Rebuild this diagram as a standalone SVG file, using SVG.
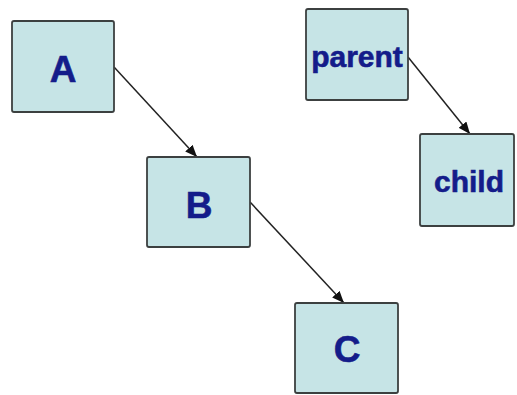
<svg xmlns="http://www.w3.org/2000/svg" width="517" height="395" viewBox="0 0 517 395">
<style>
.box{fill:#c6e4e6;stroke:#3c4040;stroke-width:1.8}
.lbl{font-family:"Liberation Sans",Arial,sans-serif;font-weight:bold;fill:#141c8a;stroke:#141c8a;stroke-width:0.6;text-anchor:middle}
.big{font-size:37px}
.word{font-size:30px}
.conn{stroke:#222;stroke-width:1.5;fill:none;marker-end:url(#ah)}
</style>
<defs>
<marker id="ah" markerWidth="12" markerHeight="10" refX="12" refY="5" orient="auto" markerUnits="userSpaceOnUse">
<path d="M0,0 L12,5 L0,10 z" fill="#111"/>
</marker>
</defs>
<rect width="517" height="395" fill="#fff"/>
<g id="connectors">
<line class="conn" x1="114" y1="67" x2="197" y2="157"/>
<line class="conn" x1="250" y1="202" x2="344" y2="303"/>
<line class="conn" x1="408" y1="57" x2="470" y2="134"/>
</g>
<g id="A"><rect class="box" x="12" y="21" width="102" height="91" rx="2"/><text class="lbl big" x="63" y="82">A</text></g>
<g id="B"><rect class="box" x="147" y="157" width="103" height="90" rx="2"/><text class="lbl big" x="199" y="218">B</text></g>
<g id="C"><rect class="box" x="295" y="303" width="103" height="90" rx="2"/><text class="lbl big" x="347" y="362">C</text></g>
<g id="parent"><rect class="box" x="306" y="9" width="102" height="91" rx="2"/><text class="lbl word" x="357" y="67">parent</text></g>
<g id="child"><rect class="box" x="420" y="134" width="94" height="92" rx="2"/><text class="lbl word" x="469" y="192">child</text></g>
</svg>
